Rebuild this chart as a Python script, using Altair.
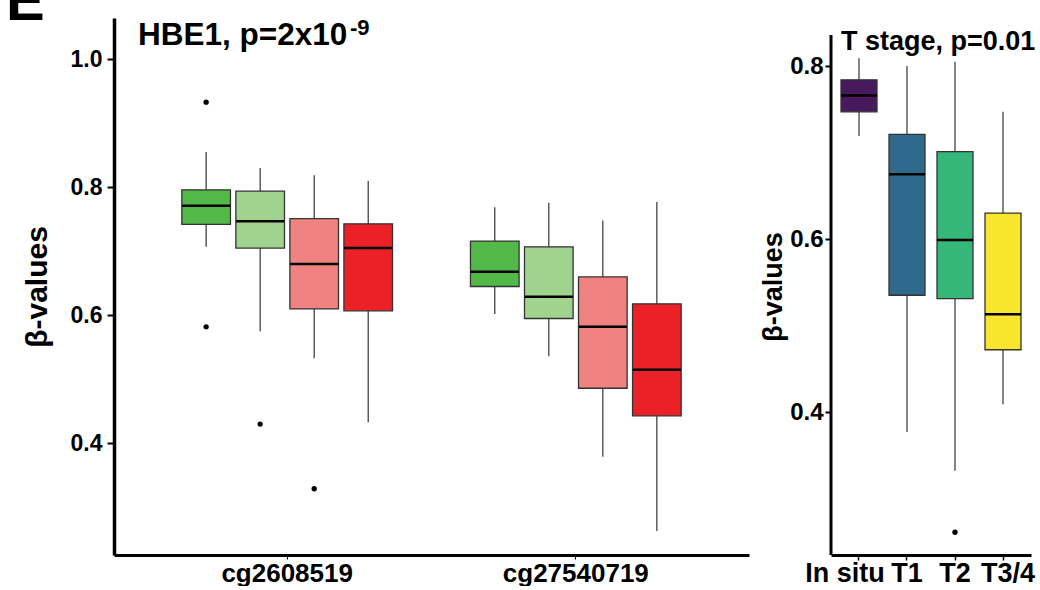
import altair as alt
import pandas as pd

FONT = "Liberation Sans"

# ---------------- data: left panel (HBE1 probes) ----------------
probes = ["cg2608519", "cg27540719"]
groups = ["Group 1", "Group 2", "Group 3", "Group 4"]
group_colors = ["#52B848", "#A0D48E", "#F08282", "#EC2027"]

# one inner list per probe, one value per group
left_whisker_low = [[0.707, 0.575, 0.533, 0.433], [0.602, 0.536, 0.379, 0.263]]
left_q1 = [[0.742, 0.705, 0.610, 0.607], [0.645, 0.595, 0.486, 0.443]]
left_median = [[0.771, 0.747, 0.680, 0.705], [0.668, 0.629, 0.582, 0.515]]
left_q3 = [[0.796, 0.794, 0.751, 0.743], [0.716, 0.707, 0.660, 0.618]]
left_whisker_high = [[0.855, 0.830, 0.819, 0.810], [0.769, 0.776, 0.748, 0.777]]

left_outlier_probe = ["cg2608519", "cg2608519", "cg2608519", "cg2608519"]
left_outlier_group = ["Group 1", "Group 1", "Group 2", "Group 3"]
left_outlier_value = [0.933, 0.582, 0.430, 0.329]

left_yticks = [0.4, 0.6, 0.8, 1.0]
left_ydomain = [0.2255, 1.0645]

# ---------------- data: right panel (T stage) ----------------
stages = ["In situ", "T1", "T2", "T3/4"]
stage_colors = ["#471A5E", "#2F6A8D", "#35B779", "#F9E52B"]
right_whisker_low = [0.719, 0.377, 0.332, 0.409]
right_q1 = [0.747, 0.535, 0.531, 0.472]
right_median = [0.766, 0.675, 0.599, 0.513]
right_q3 = [0.784, 0.721, 0.701, 0.630]
right_whisker_high = [0.809, 0.800, 0.805, 0.747]
right_outlier_stage = ["T2"]
right_outlier_value = [0.261]

right_yticks = [0.4, 0.6, 0.8]
right_ydomain = [0.2347, 0.8555]      # scale extent (view spans the same height as left)
right_axis_extent = [0.2347, 0.8358]  # drawn extent of the y axis line

# ---------------- tables ----------------
rows = []
for i, p in enumerate(probes):
    for j, g in enumerate(groups):
        rows.append(dict(probe=p, group=g,
                         lo=left_whisker_low[i][j], q1=left_q1[i][j],
                         median=left_median[i][j], q3=left_q3[i][j],
                         hi=left_whisker_high[i][j]))
left_df = pd.DataFrame(rows)
left_out_df = pd.DataFrame(dict(probe=left_outlier_probe, group=left_outlier_group,
                                value=left_outlier_value))

right_df = pd.DataFrame(dict(stage=stages, lo=right_whisker_low, q1=right_q1,
                             median=right_median, q3=right_q3, hi=right_whisker_high))
right_out_df = pd.DataFrame(dict(stage=right_outlier_stage, value=right_outlier_value))
right_axis_df = pd.DataFrame({"a0": [right_axis_extent[0]], "a1": [right_axis_extent[1]]})
one = pd.DataFrame({"k": [0]})

# ---------------- left panel ----------------
lx_axis = alt.Axis(title=None, labelFontSize=26, labelFontWeight="bold", labelColor="black",
                   labelAngle=0, tickSize=4, tickWidth=1, tickColor="black", labelPadding=1,
                   domainWidth=3, domainColor="black", grid=False)
lx = alt.X("probe:N", sort=probes,
           scale=alt.Scale(domain=probes, paddingInner=0, paddingOuter=0.1), axis=lx_axis)
lxo = alt.XOffset("group:N", sort=groups,
                  scale=alt.Scale(domain=groups, paddingInner=0.1, paddingOuter=0.7213))
ly_axis = alt.Axis(values=left_yticks, format=".1f", title="β-values", titleFontSize=30,
                   titleFontWeight="bold", titleColor="black", titlePadding=18,
                   labelFontSize=23, labelFontWeight="bold", labelColor="black",
                   tickSize=7, tickWidth=2, tickColor="black", labelPadding=5,
                   domainWidth=3.5, domainColor="black", grid=False)
lys = alt.Scale(domain=left_ydomain, nice=False, zero=False)

lbase = alt.Chart(left_df)
l_whisk = lbase.mark_rule(color="#333333", strokeWidth=1.2).encode(
    x=lx, xOffset=lxo,
    y=alt.Y("lo:Q", scale=lys, axis=ly_axis), y2="hi:Q")
l_box = lbase.mark_bar(stroke="#333333", strokeWidth=1.3, opacity=1).encode(
    x=lx, xOffset=lxo,
    y=alt.Y("q1:Q", scale=lys, axis=ly_axis), y2="q3:Q",
    color=alt.Color("group:N", sort=groups,
                    scale=alt.Scale(domain=groups, range=group_colors), legend=None))
l_med = lbase.mark_tick(color="black", thickness=2.5, size=48, opacity=1).encode(
    x=lx, xOffset=lxo, y=alt.Y("median:Q", scale=lys, axis=ly_axis))
l_out = alt.Chart(left_out_df).mark_circle(color="black", size=28, opacity=1).encode(
    x=lx, xOffset=lxo, y=alt.Y("value:Q", scale=lys, axis=ly_axis))

l_title = alt.Chart(one).mark_text(text="HBE1, p=2x10", font=FONT, fontSize=31.5,
                                   fontWeight="bold", align="left", baseline="alphabetic",
                                   color="black").encode(x=alt.value(24), y=alt.value(27))
l_sup = alt.Chart(one).mark_text(text="-9", font=FONT, fontSize=22, fontWeight="bold",
                                 align="left", baseline="alphabetic",
                                 color="black").encode(x=alt.value(236), y=alt.value(17))
l_letter = alt.Chart(one).mark_text(text="E", font=FONT, fontSize=58, fontWeight="bold",
                                    align="left", baseline="alphabetic",
                                    color="black").encode(x=alt.value(-108), y=alt.value(2))
# invisible spacer fixing the top of the layout bounds
l_spacer = alt.Chart(one).mark_rule(opacity=0, strokeWidth=1).encode(
    x=alt.value(0), y=alt.value(-60), y2=alt.value(0))

left = alt.layer(l_whisk, l_box, l_med, l_out, l_title, l_sup, l_letter, l_spacer).properties(
    width=635, height=537)

# ---------------- right panel ----------------
rx_axis = alt.Axis(title=None, labelFontSize=27, labelFontWeight="bold", labelColor="black",
                   labelAngle=0, tickSize=5, tickWidth=1.5, tickColor="black", labelPadding=0,
                   domainWidth=3, domainColor="black", grid=False,
                   labelOffset={"condition": [{"test": "datum.value === 'In situ'", "value": -14},
                                              {"test": "datum.value === 'T3/4'", "value": 5}],
                                "value": 0})
rx = alt.X("stage:N", sort=stages,
           scale=alt.Scale(domain=stages, paddingInner=0.25, paddingOuter=0.2083), axis=rx_axis)
ry_axis = alt.Axis(values=right_yticks, format=".1f", title="β-values", titleFontSize=27,
                   titleFontWeight="bold", titleColor="black", titlePadding=2,
                   labelFontSize=24, labelFontWeight="bold", labelColor="black",
                   tickSize=6, tickWidth=2, tickColor="black", labelPadding=2,
                   domain=False, grid=False)
rys = alt.Scale(domain=right_ydomain, nice=False, zero=False)

rbase = alt.Chart(right_df)
r_whisk = rbase.mark_rule(color="#333333", strokeWidth=1.2).encode(
    x=rx, y=alt.Y("lo:Q", scale=rys, axis=ry_axis), y2="hi:Q")
r_box = rbase.mark_bar(stroke="#333333", strokeWidth=1.3, opacity=1).encode(
    x=rx, y=alt.Y("q1:Q", scale=rys, axis=ry_axis), y2="q3:Q",
    color=alt.Color("stage:N", sort=stages,
                    scale=alt.Scale(domain=stages, range=stage_colors), legend=None))
r_med = rbase.mark_tick(color="black", thickness=2.5, size=36, opacity=1).encode(
    x=rx, y=alt.Y("median:Q", scale=rys, axis=ry_axis))
r_out = alt.Chart(right_out_df).mark_circle(color="black", size=28, opacity=1).encode(
    x=rx, y=alt.Y("value:Q", scale=rys, axis=ry_axis))
r_axisline = alt.Chart(right_axis_df).mark_rule(color="black", strokeWidth=3).encode(
    x=alt.value(0), y=alt.Y("a0:Q", scale=rys, axis=ry_axis), y2="a1:Q")
r_title = alt.Chart(one).mark_text(text="T stage, p=0.01", font=FONT, fontSize=27,
                                   fontWeight="bold", align="left", baseline="alphabetic",
                                   color="black").encode(x=alt.value(10), y=alt.value(32))

right = alt.layer(r_whisk, r_box, r_med, r_out, r_axisline, r_title).properties(
    width=200, height=537)

chart = alt.hconcat(left, right, spacing=10).resolve_scale(
    color="independent"
).properties(
    padding={"left": 6, "top": -42, "right": 0, "bottom": 0},
    background="white"
).configure_view(stroke=None).configure_axis(
    grid=False, labelFont=FONT, titleFont=FONT
)

chart.save("out.html", embed_options={"renderer": "svg", "actions": False})
